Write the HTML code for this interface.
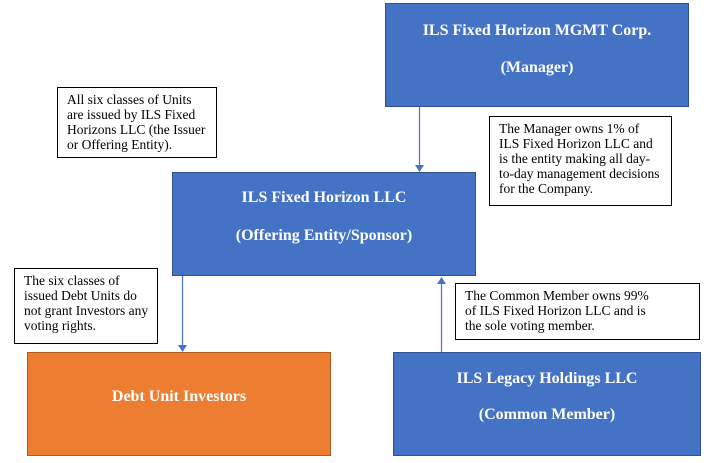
<!DOCTYPE html>
<html><head><style>
body{margin:0;width:713px;height:463px;background:#fff;position:relative;overflow:hidden;font-family:"Liberation Serif",serif}
.b{position:absolute;background:#4472C4;border:1px solid #2F528F;box-sizing:border-box;color:#fff;font-weight:bold;font-size:16px;text-align:center}
.t{position:absolute;border:1px solid #000;box-sizing:border-box;background:#fff;font-size:13.5px;line-height:15px;padding:4px 9px;color:#000;white-space:nowrap;overflow:hidden}
.b p{margin:0;position:absolute;left:0;right:0}
</style></head><body>
<div class="b" style="left:385px;top:3px;width:304px;height:104px"><p style="top:18px">ILS Fixed Horizon MGMT Corp.</p><p style="top:55px">(Manager)</p></div>
<div class="b" style="left:172px;top:172px;width:304px;height:104px"><p style="top:16px">ILS Fixed Horizon LLC</p><p style="top:54px">(Offering Entity/Sponsor)</p></div>
<div class="b" style="left:27px;top:352px;width:304px;height:104px;background:#ED7D31;border-color:#AE5A21"><p style="top:35px">Debt Unit Investors</p></div>
<div class="b" style="left:393px;top:352px;width:308px;height:104px"><p style="top:17px">ILS Legacy Holdings LLC</p><p style="top:53px">(Common Member)</p></div>
<div class="t" style="left:57px;top:87px;width:160px;height:71px">All six classes of Units<br>are issued by ILS Fixed<br>Horizons LLC (the Issuer<br>or Offering Entity).</div>
<div class="t" style="left:489px;top:116px;width:183px;height:90px">The Manager owns 1% of<br>ILS Fixed Horizon LLC and<br>is the entity making all day-<br>to-day management decisions<br>for the Company.</div>
<div class="t" style="left:14px;top:268px;width:144px;height:76px">The six classes of<br>issued Debt Units do<br>not grant Investors any<br>voting rights.</div>
<div class="t" style="left:455px;top:283px;width:245px;height:57px">The Common Member owns 99%<br>of ILS Fixed Horizon LLC and is<br>the sole voting member.</div>
<svg width="713" height="463" style="position:absolute;left:0;top:0">
<g stroke="#4472C4" stroke-width="1.2" fill="#4472C4">
<line x1="419.5" y1="107" x2="419.5" y2="166"/><polygon points="415,165 424,165 419.5,172" stroke="none"/>
<line x1="182.5" y1="276" x2="182.5" y2="346"/><polygon points="178,345 187,345 182.5,352" stroke="none"/>
<line x1="441.5" y1="352" x2="441.5" y2="283"/><polygon points="437,284 446,284 441.5,277" stroke="none"/>
</g></svg>
</body></html>
